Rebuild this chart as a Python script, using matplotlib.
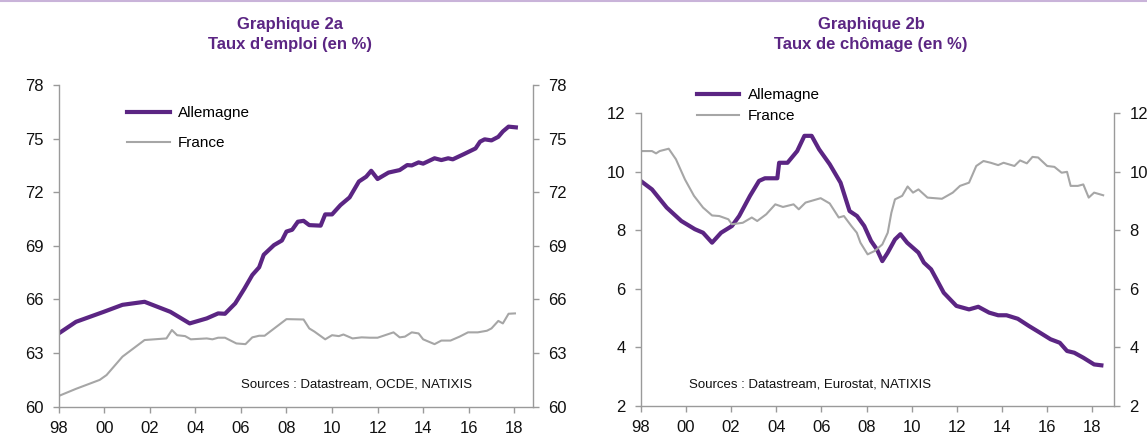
import numpy as np
import matplotlib.pyplot as plt
from matplotlib.lines import Line2D

plt.rcParams['font.family'] = ['Liberation Sans', 'DejaVu Sans']

# ---- Graphique 2a : taux d'emploi ----
emp_de_t = [1998.0, 1998.76, 1999.98, 2000.8, 2001.77, 2002.9, 2003.75, 2004.5, 2005.0, 2005.3,
            2005.75, 2006.15, 2006.5, 2006.8, 2007.0, 2007.45, 2007.8, 2008.0, 2008.25, 2008.5,
            2008.75, 2009.0, 2009.5, 2009.7, 2010.0, 2010.37, 2010.77, 2011.18, 2011.5, 2011.72,
            2012.0, 2012.48, 2012.97, 2013.3, 2013.5, 2013.8, 2014.0, 2014.5, 2014.8, 2015.1,
            2015.3, 2015.8, 2016.3, 2016.5, 2016.7, 2017.0, 2017.3, 2017.5, 2017.75, 2018.07]
emp_de = [64.1, 64.75, 65.31, 65.7, 65.87, 65.31, 64.66, 64.94, 65.22, 65.2,
          65.78, 66.6, 67.37, 67.8, 68.5, 69.04, 69.3, 69.8, 69.9, 70.35,
          70.4, 70.16, 70.13, 70.76, 70.76, 71.28, 71.71, 72.6, 72.87, 73.2,
          72.74, 73.1, 73.24, 73.52, 73.5, 73.67, 73.6, 73.9, 73.8, 73.9,
          73.84, 74.14, 74.45, 74.83, 74.96, 74.9, 75.1, 75.4, 75.67, 75.63]

emp_fr_t = [1998.0, 1998.76, 1999.8, 2000.1, 2000.8, 2001.77, 2002.73, 2002.97, 2003.2, 2003.55,
            2003.8, 2004.5, 2004.75, 2005.0, 2005.3, 2005.8, 2006.2, 2006.5, 2006.8, 2007.04,
            2008.0, 2008.75, 2009.0, 2009.23, 2009.7, 2010.0, 2010.3, 2010.5, 2010.9, 2011.3,
            2011.67, 2012.0, 2012.7, 2012.97, 2013.2, 2013.5, 2013.8, 2014.0, 2014.5, 2014.8,
            2015.2, 2015.6, 2015.97, 2016.4, 2016.8, 2017.0, 2017.3, 2017.5, 2017.75, 2018.03]
emp_fr = [60.6, 61.0, 61.5, 61.77, 62.8, 63.73, 63.82, 64.29, 64.0, 63.95,
          63.77, 63.82, 63.77, 63.86, 63.86, 63.54, 63.5, 63.88, 63.97, 63.97,
          64.9, 64.88, 64.38, 64.2, 63.77, 64.0, 63.95, 64.04, 63.82, 63.88,
          63.86, 63.86, 64.16, 63.88, 63.92, 64.16, 64.1, 63.77, 63.5, 63.7,
          63.7, 63.92, 64.16, 64.16, 64.25, 64.38, 64.8, 64.66, 65.2, 65.22]

# ---- Graphique 2b : taux de chomage ----
cho_de_t = [1998.0, 1998.5, 1999.15, 1999.8, 2000.4, 2000.76, 2001.16, 2001.56, 2002.04, 2002.36,
            2002.84, 2003.24, 2003.5, 2004.05, 2004.13, 2004.5, 2004.93, 2005.25, 2005.57, 2005.9,
            2006.37, 2006.85, 2007.25, 2007.58, 2007.9, 2008.2, 2008.46, 2008.7, 2008.94, 2009.26,
            2009.5, 2009.8, 2010.3, 2010.54, 2010.86, 2011.1, 2011.42, 2011.98, 2012.54, 2012.95,
            2013.43, 2013.83, 2014.2, 2014.7, 2015.2, 2015.67, 2016.15, 2016.56, 2016.88, 2017.2,
            2017.6, 2018.08, 2018.4]
cho_de = [9.69, 9.4, 8.78, 8.32, 8.04, 7.92, 7.58, 7.92, 8.15, 8.49,
          9.18, 9.69, 9.78, 9.78, 10.31, 10.31, 10.71, 11.23, 11.23, 10.77,
          10.26, 9.63, 8.66, 8.49, 8.15, 7.64, 7.35, 6.95, 7.24, 7.69,
          7.87, 7.58, 7.24, 6.9, 6.67, 6.33, 5.87, 5.42, 5.3, 5.39,
          5.19, 5.1, 5.1, 4.98, 4.73, 4.51, 4.28, 4.16, 3.88, 3.82,
          3.65, 3.42, 3.39]

cho_fr_t = [1998.0, 1998.5, 1998.68, 1998.84, 1999.24, 1999.56, 1999.96, 2000.36, 2000.76, 2001.16,
            2001.48, 2001.88, 2002.04, 2002.52, 2002.92, 2003.16, 2003.56, 2003.96, 2004.3, 2004.77,
            2005.0, 2005.3, 2005.97, 2006.37, 2006.77, 2007.0, 2007.33, 2007.57, 2007.73, 2008.05,
            2008.37, 2008.7, 2008.94, 2009.1, 2009.26, 2009.58, 2009.82, 2010.06, 2010.3, 2010.7,
            2011.34, 2011.82, 2012.14, 2012.54, 2012.86, 2013.18, 2013.5, 2013.83, 2014.07, 2014.55,
            2014.8, 2015.1, 2015.35, 2015.6, 2016.0, 2016.32, 2016.64, 2016.88, 2017.04, 2017.36,
            2017.6, 2017.84, 2018.08, 2018.48]
cho_fr = [10.71, 10.71, 10.63, 10.71, 10.79, 10.43, 9.74, 9.18, 8.78, 8.51,
          8.49, 8.38, 8.21, 8.26, 8.44, 8.32, 8.55, 8.89, 8.8, 8.89,
          8.72, 8.95, 9.1, 8.92, 8.44, 8.49, 8.15, 7.92, 7.58, 7.18,
          7.3, 7.52, 7.92, 8.6, 9.06, 9.18, 9.5, 9.29, 9.4, 9.12,
          9.08, 9.29, 9.52, 9.63, 10.2, 10.37, 10.31, 10.23, 10.31, 10.2,
          10.39, 10.29, 10.51, 10.49, 10.2, 10.17, 9.97, 10.0, 9.52, 9.52,
          9.57, 9.12, 9.29, 9.2]

year_ticks = list(range(1998, 2019, 2))
year_labels = ['98', '00', '02', '04', '06', '08', '10', '12', '14', '16', '18']

purple = '#5B2583'
grey = '#A6A6A6'
axcol = '#9A9A9A'

W, H = 1147, 444
fig = plt.figure(figsize=(W / 100, H / 100), dpi=100)

# thin lavender rule at the top
fig.add_artist(Line2D([0, 1], [0.998, 0.998], transform=fig.transFigure,
                      color='#C9B3D9', lw=1.5))


def style_axis(ax, xlim, ylim, yticks):
    ax.set_xlim(*xlim)
    ax.set_ylim(*ylim)
    ax.set_xticks(year_ticks)
    ax.set_xticklabels(year_labels)
    ax.set_yticks(yticks)
    ax.spines['top'].set_visible(False)
    for s in ['left', 'right', 'bottom']:
        ax.spines[s].set_color(axcol)
        ax.spines[s].set_linewidth(1.0)
    ax.tick_params(axis='both', direction='out', length=4, width=1.0, color=axcol,
                   labelsize=12, labelcolor='#111111')
    ax.tick_params(axis='y', left=True, right=True, labelleft=True, labelright=True, pad=7)
    ax.tick_params(axis='x', pad=6)


# left panel
ax1 = fig.add_axes([58.7 / W, (H - 406.7) / H, (532.7 - 58.7) / W, (406.7 - 85) / H])
ax1.plot(emp_de_t, emp_de, color=purple, lw=3.0, label='Allemagne', solid_joinstyle='round')
ax1.plot(emp_fr_t, emp_fr, color=grey, lw=1.5, label='France')
style_axis(ax1, (1998, 2018.81), (60, 78), [60, 63, 66, 69, 72, 75, 78])
ax1.legend(loc='upper left', bbox_to_anchor=(127 / W, 1 - 106 / H),
           bbox_transform=fig.transFigure, frameon=False, fontsize=11,
           handlelength=2.8, handletextpad=0.55, labelspacing=1.06,
           borderpad=0, borderaxespad=0)
ax1.text(0.385, 0.0675, 'Sources : Datastream, OCDE, NATIXIS', transform=ax1.transAxes,
         fontsize=9.5, va='center', ha='left', color='#111111')

# right panel
ax2 = fig.add_axes([640.7 / W, (H - 406) / H, (1114 - 640.7) / W, (406 - 113.3) / H])
ax2.plot(cho_de_t, cho_de, color=purple, lw=3.0, label='Allemagne', solid_joinstyle='round')
ax2.plot(cho_fr_t, cho_fr, color=grey, lw=1.5, label='France')
style_axis(ax2, (1998, 2018.96), (2, 12), [2, 4, 6, 8, 10, 12])
ax2.legend(loc='upper left', bbox_to_anchor=(696.7 / W, 1 - 88 / H),
           bbox_transform=fig.transFigure, frameon=False, fontsize=11,
           handlelength=2.8, handletextpad=0.55, labelspacing=0.46,
           borderpad=0, borderaxespad=0)
ax2.text(0.102, 0.075, 'Sources : Datastream, Eurostat, NATIXIS', transform=ax2.transAxes,
         fontsize=9.5, va='center', ha='left', color='#111111')

# titles
for xc, l1, l2 in [(290, 'Graphique 2a', "Taux d'emploi (en %)"),
                   (871, 'Graphique 2b', 'Taux de chômage (en %)')]:
    fig.text(xc / W, 1 - 25 / H, l1, ha='center', va='center', fontsize=12,
             fontweight='bold', color=purple)
    fig.text(xc / W, 1 - 44 / H, l2, ha='center', va='center', fontsize=12,
             fontweight='bold', color=purple)

fig.savefig('out.png', dpi=100)
